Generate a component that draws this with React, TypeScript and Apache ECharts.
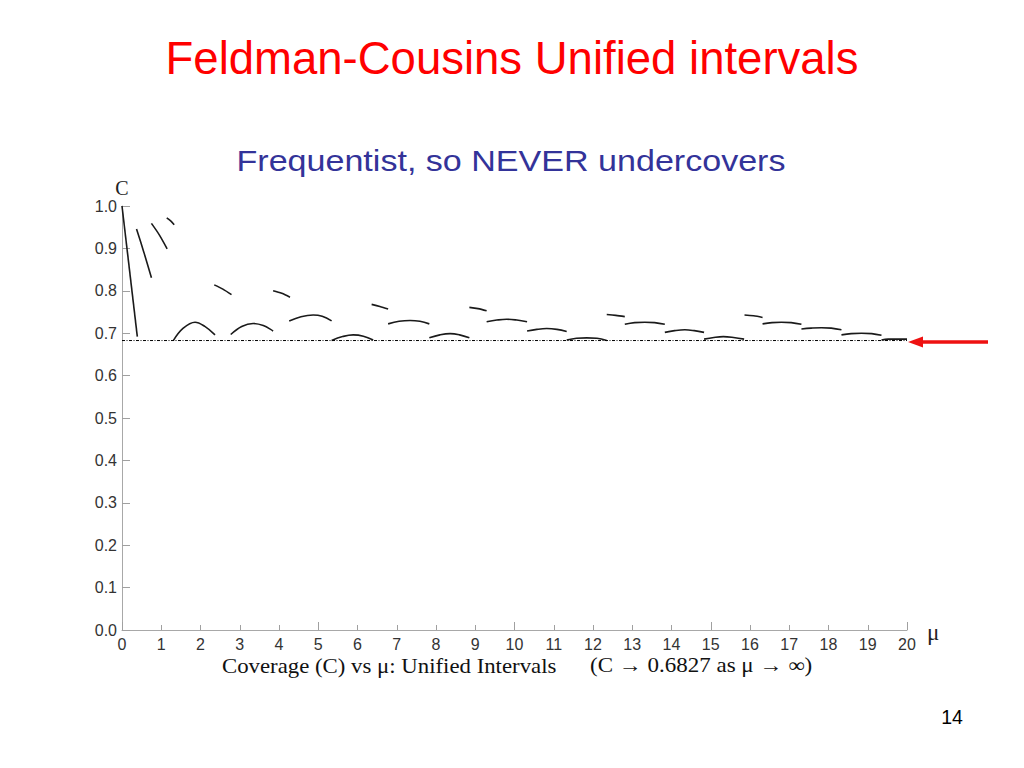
import React, { useEffect, useRef } from "react";
import * as echarts from "echarts";

// ---- data ----
const titleText = "Feldman-Cousins Unified intervals";
const subtitleText = "Frequentist, so NEVER undercovers";
const captionLeft = "Coverage (C) vs \u03bc: Unified Intervals";
const captionRight = "(C \u2192 0.6827 as \u03bc \u2192 \u221e)";
const pageNumber = "14";

const xMin = 0;
const xMax = 20;
const yMin = 0;
const yMax = 1;
const limitCoverage = 0.6827;

// steep, nearly straight pieces at small mu (and the short falling pieces)
const fallingSegments: [number, number][][] = [
  [[0.0, 1.0], [0.39, 0.692]],
  [[0.37, 0.946], [0.56, 0.89], [0.75, 0.831]],
  [[0.75, 0.959], [0.95, 0.932], [1.15, 0.899]],
  [[1.14, 0.972], [1.24, 0.965], [1.33, 0.956]],
  [[2.35, 0.814], [2.57, 0.804], [2.79, 0.791]],
  [[3.85, 0.8], [4.07, 0.794], [4.28, 0.785]],
  [[6.36, 0.768], [6.57, 0.763], [6.78, 0.757]],
  [[8.85, 0.761], [9.07, 0.758], [9.29, 0.753]],
  [[12.35, 0.744], [12.58, 0.742], [12.81, 0.739]],
  [[15.86, 0.743], [16.09, 0.741], [16.32, 0.737]],
];

// arc-shaped pieces
const arcSegments: [number, number][][] = [
  [[1.31, 0.683], [1.56, 0.712], [1.86, 0.726], [2.11, 0.716], [2.37, 0.696]],
  [[2.77, 0.697], [3.05, 0.716], [3.34, 0.723], [3.6, 0.718], [3.85, 0.705]],
  [[4.26, 0.729], [4.56, 0.739], [4.87, 0.743], [5.1, 0.74], [5.34, 0.729]],
  [[5.34, 0.683], [5.62, 0.692], [5.89, 0.696], [6.15, 0.693], [6.4, 0.684]],
  [[6.78, 0.722], [7.06, 0.728], [7.34, 0.73], [7.59, 0.728], [7.83, 0.722]],
  [[7.83, 0.689], [8.1, 0.696], [8.36, 0.699], [8.6, 0.696], [8.85, 0.689]],
  [[9.29, 0.727], [9.55, 0.731], [9.8, 0.733], [10.06, 0.731], [10.32, 0.727]],
  [[10.32, 0.705], [10.57, 0.709], [10.82, 0.711], [11.08, 0.709], [11.33, 0.704]],
  [[11.33, 0.684], [11.58, 0.688], [11.84, 0.689], [12.1, 0.688], [12.35, 0.683]],
  [[12.81, 0.721], [13.06, 0.725], [13.32, 0.726], [13.57, 0.725], [13.83, 0.721]],
  [[13.83, 0.702], [14.08, 0.706], [14.34, 0.708], [14.58, 0.706], [14.83, 0.702]],
  [[14.83, 0.686], [15.08, 0.69], [15.32, 0.692], [15.58, 0.69], [15.85, 0.686]],
  [[16.32, 0.722], [16.56, 0.725], [16.8, 0.726], [17.05, 0.725], [17.31, 0.721]],
  [[17.31, 0.71], [17.56, 0.712], [17.82, 0.713], [18.07, 0.712], [18.33, 0.708]],
  [[18.33, 0.696], [18.58, 0.699], [18.84, 0.7], [19.1, 0.699], [19.35, 0.695]],
  [[19.35, 0.684], [19.52, 0.686], [19.69, 0.686], [20.0, 0.686]],
];

const SANS = "'Liberation Sans', Arial, Helvetica, sans-serif";
const SERIF = "'Liberation Serif', 'Times New Roman', 'DejaVu Serif', serif";

export default function App() {
  const ref = useRef<HTMLDivElement>(null);

  useEffect(() => {
    if (!ref.current) return;
    const chart = echarts.init(ref.current, null, { renderer: "svg" });

    const curveStyle = { color: "#1a1a1a", width: 1.6 };
    const series: any[] = [];
    fallingSegments.forEach((seg) =>
      series.push({
        type: "line",
        data: seg,
        smooth: 0.3,
        showSymbol: false,
        silent: true,
        lineStyle: curveStyle,
        xAxisIndex: 0,
        yAxisIndex: 0,
      })
    );
    arcSegments.forEach((seg) =>
      series.push({
        type: "line",
        data: seg,
        smooth: 0.4,
        showSymbol: false,
        silent: true,
        lineStyle: curveStyle,
        xAxisIndex: 0,
        yAxisIndex: 0,
      })
    );
    series.push({
      type: "line",
      data: [
        [xMin, limitCoverage],
        [xMax, limitCoverage],
      ],
      showSymbol: false,
      silent: true,
      lineStyle: { color: "#000", width: 1, type: [3, 1.5, 1, 1.5] },
      xAxisIndex: 0,
      yAxisIndex: 0,
    });

    chart.setOption({
      animation: false,
      backgroundColor: "#fff",
      grid: { left: 122, right: 117, top: 206, bottom: 138, containLabel: false },
      xAxis: [
        {
          type: "value",
          min: xMin,
          max: xMax,
          interval: 1,
          position: "bottom",
          axisLine: { show: true, onZero: false, lineStyle: { color: "#a8a8a8", width: 1 } },
          axisTick: { show: true, inside: true, length: 5, lineStyle: { color: "#a0a0a0" } },
          axisLabel: { color: "#333", fontSize: 16, fontFamily: SANS, margin: 6 },
          splitLine: { show: false },
          name: "\u03bc",
          nameLocation: "end",
          nameGap: 20,
          nameTextStyle: {
            fontFamily: SERIF,
            fontSize: 23,
            color: "#222",
            verticalAlign: "bottom",
            padding: [0, 0, -14, 0],
          },
        },
        {
          type: "value",
          min: xMin,
          max: xMax,
          interval: 5,
          position: "bottom",
          axisLine: { show: false },
          axisTick: { show: true, inside: true, length: 8, lineStyle: { color: "#a0a0a0" } },
          axisLabel: { show: false },
          splitLine: { show: false },
        },
      ],
      yAxis: {
        type: "value",
        min: yMin,
        max: yMax,
        interval: 0.1,
        axisLine: { show: true, lineStyle: { color: "#a8a8a8", width: 1 } },
        axisTick: { show: true, inside: true, length: 8, lineStyle: { color: "#a0a0a0" } },
        axisLabel: {
          color: "#333",
          fontSize: 16,
          fontFamily: SANS,
          margin: 5,
          formatter: (v: number) => v.toFixed(1),
        },
        splitLine: { show: false },
        name: "C",
        nameLocation: "end",
        nameGap: 8,
        nameTextStyle: { fontFamily: SERIF, fontSize: 20, color: "#222", align: "center" },
      },
      series,
    });

    const tip = chart.convertToPixel({ xAxisIndex: 0, yAxisIndex: 0 }, [xMax, limitCoverage]) as number[];
    const ax = tip[0] + 1;
    const ay = tip[1] + 1.5;

    chart.setOption({
      graphic: [
        {
          type: "text",
          x: 512,
          y: 58,
          style: {
            text: titleText,
            fontSize: 45.5,
            fontFamily: SANS,
            fill: "#ff0000",
            align: "center",
            verticalAlign: "middle",
          },
        },
        {
          type: "text",
          x: 511,
          y: 161,
          scaleX: 1.175,
          style: {
            text: subtitleText,
            fontSize: 29,
            fontFamily: SANS,
            fill: "#333399",
            align: "center",
            verticalAlign: "middle",
          },
        },
        {
          type: "text",
          x: 222,
          y: 666,
          scaleX: 1.14,
          style: {
            text: captionLeft,
            fontSize: 20,
            fontFamily: SERIF,
            fill: "#111",
            align: "left",
            verticalAlign: "middle",
          },
        },
        {
          type: "text",
          x: 590,
          y: 666,
          scaleX: 1.15,
          style: {
            text: captionRight,
            fontSize: 20,
            fontFamily: SERIF,
            fill: "#111",
            align: "left",
            verticalAlign: "middle",
          },
        },
        {
          type: "text",
          x: 952,
          y: 717,
          style: {
            text: pageNumber,
            fontSize: 19.5,
            fontFamily: SANS,
            fill: "#000",
            align: "center",
            verticalAlign: "middle",
          },
        },
        {
          type: "line",
          shape: { x1: ax + 12, y1: ay, x2: 988, y2: ay },
          style: { stroke: "#ee1111", lineWidth: 3.5 },
        },
        {
          type: "polygon",
          shape: {
            points: [
              [ax, ay],
              [ax + 15, ay - 5.5],
              [ax + 15, ay + 5.5],
            ],
          },
          style: { fill: "#ee1111" },
        },
      ],
    });

    return () => chart.dispose();
  }, []);

  return (
    <div
      ref={ref}
      style={{ position: "fixed", left: 0, top: 0, width: 1024, height: 768, background: "#fff" }}
    />
  );
}
